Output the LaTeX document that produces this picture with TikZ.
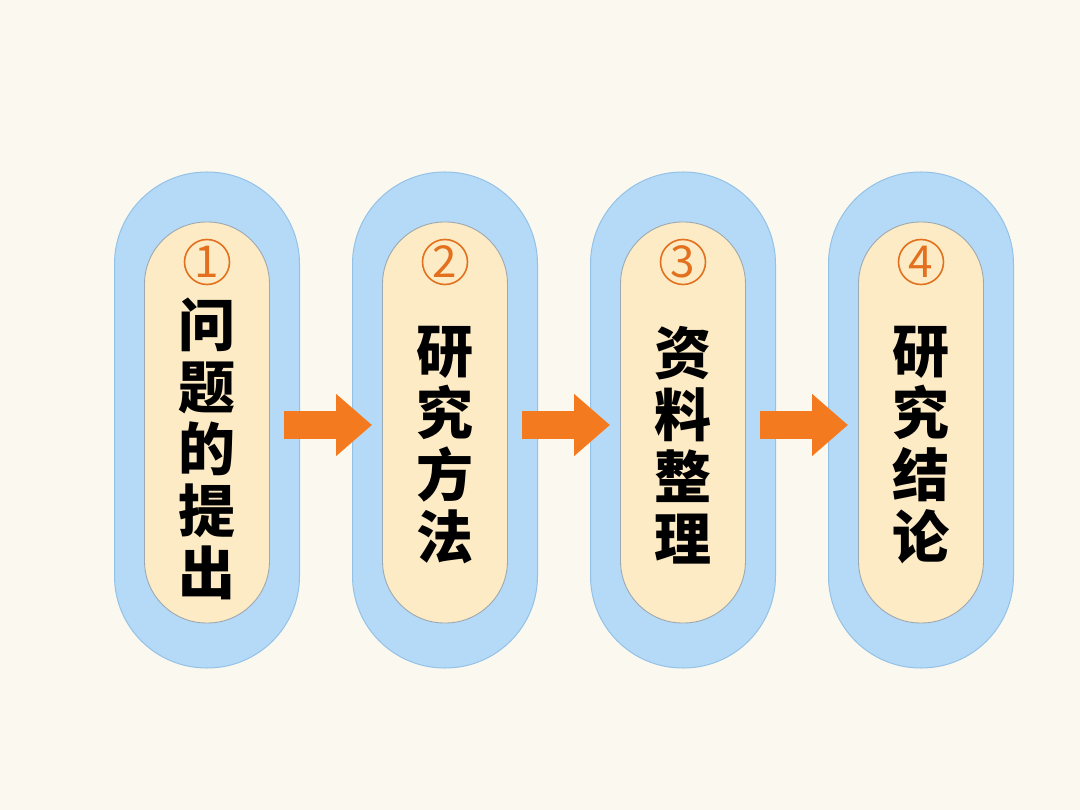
\documentclass[tikz,border=0pt]{standalone}
\usepackage{fontspec}
\newfontfamily\cjk{Noto Sans CJK SC}
\usetikzlibrary{arrows.meta, positioning}
\definecolor{bgcream}{HTML}{FBF8EF}
\definecolor{pillblue}{HTML}{B5DAF7}
\definecolor{pillrim}{HTML}{94C2E6}
\definecolor{pillcream}{HTML}{FCEBC4}
\definecolor{innerrim}{HTML}{9EA8B0}
\definecolor{numorange}{HTML}{E2701E}
\definecolor{arroworange}{HTML}{F47A20}

\begin{document}
\begin{tikzpicture}[x=1pt, y=-1pt,
  outerpill/.style={draw=pillrim, line width=1pt, fill=pillblue, inner sep=0pt,
    minimum width=185pt, minimum height=496pt, rounded corners=92pt},
  innerpill/.style={draw=innerrim, line width=0.9pt, fill=pillcream, inner sep=0pt,
    minimum width=125pt, minimum height=401pt, rounded corners=62pt},
  numcircle/.style={circle, draw=numorange, line width=1.6pt, text=numorange,
    minimum size=45pt, inner sep=0pt, font=\cjk\fontsize{44}{44}\selectfont},
  steptext/.style={align=center, text=black, font=\cjk\bfseries\fontsize{57}{62}\selectfont},
  flowarrow/.style={draw=arroworange, line width=28pt, -{Triangle[length=36pt,width=60pt]},
    shorten <=-16pt, shorten >=-20pt}]
  \useasboundingbox (0,0) rectangle (1080,810);
  \fill[bgcream] (0,0) rectangle (1080,810);

  %% four steps: outer pill, inner pill, number, text
  \foreach \k/\x/\ty/\txt in {1/207/449/{问\\题\\的\\提\\出},
                              2/445/445/{研\\究\\方\\法},
                              3/683/445/{资\\料\\整\\理},
                              4/921/445/{研\\究\\结\\论}}{
    \node[outerpill] (o\k) at (\x,420) {};
    \node[innerpill] (i\k) at (\x,422.5) {};
    \node[numcircle] (n\k) at (\x,262) {\k};
    \node[steptext] (t\k) at (\x,\ty) {\txt};
  }

  % Arrows between steps
  \draw[flowarrow] ([yshift=-5pt]o1.east) -- ([yshift=-5pt]o2.west);
  \draw[flowarrow] ([yshift=-5pt]o2.east) -- ([yshift=-5pt]o3.west);
  \draw[flowarrow] ([yshift=-5pt]o3.east) -- ([yshift=-5pt]o4.west);
\end{tikzpicture}
\end{document}
